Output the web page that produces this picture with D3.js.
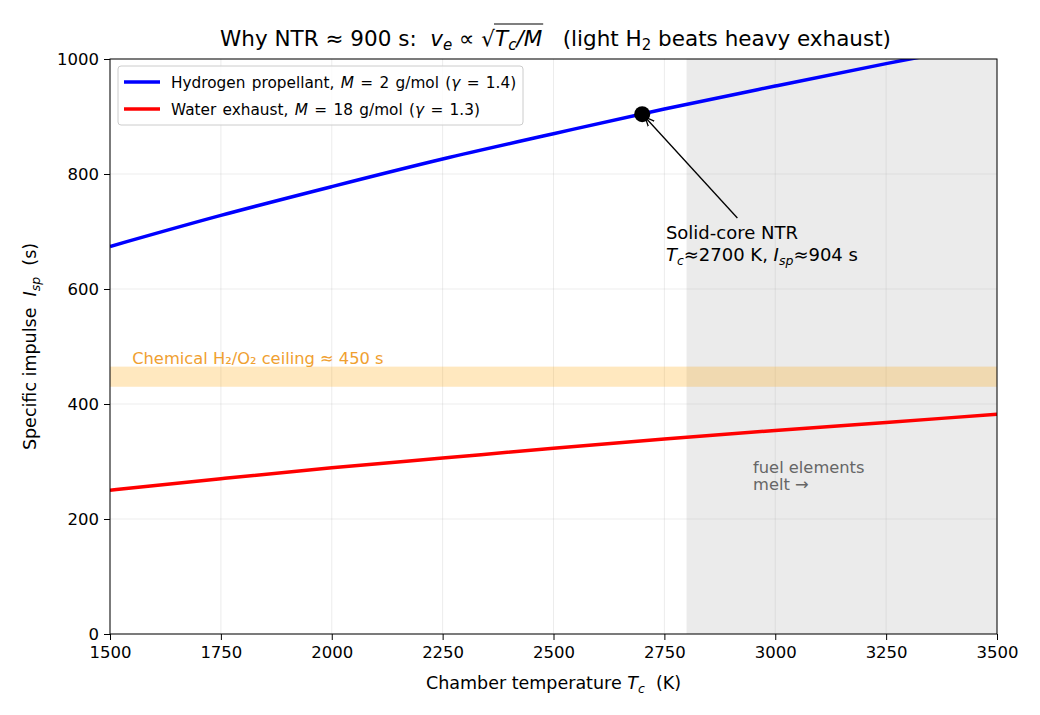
<!DOCTYPE html>
<html>
<head>
<meta charset="utf-8">
<script src="https://cdn.jsdelivr.net/npm/d3@7"></script>
<style>
  body { margin: 0; background: #fff; }
  svg text { font-family: "DejaVu Sans", sans-serif; }
</style>
</head>
<body>
<div id="wrapper"></div>
<script>
// values
const temps = [1500, 1750, 2000, 2250, 2500, 2750, 3000, 3250, 3500]
const hydrogenIsp = [674, 728, 778, 826, 870, 913, 953, 992, 1029]
const waterIsp = [250, 270, 289, 306, 323, 339, 354, 368, 382]
const xTicks = [1500, 1750, 2000, 2250, 2500, 2750, 3000, 3250, 3500]
const yTicks = [0, 200, 400, 600, 800, 1000]
const chemBand = [430, 465]
const meltStart = 2800
const ntrPoint = [2700, 904]

const dimensions = {
  width: 1040,
  height: 715,
  margin: { top: 59, right: 43, bottom: 81, left: 110 }
}
dimensions.boundedWidth = dimensions.width - dimensions.margin.left - dimensions.margin.right
dimensions.boundedHeight = dimensions.height - dimensions.margin.top - dimensions.margin.bottom

const svg = d3.select("#wrapper").append("svg")
    .attr("width", dimensions.width)
    .attr("height", dimensions.height)

const bounds = svg.append("g")
    .attr("transform", `translate(${dimensions.margin.left},${dimensions.margin.top})`)

const xScale = d3.scaleLinear().domain([1500, 3500]).range([0, dimensions.boundedWidth])
const yScale = d3.scaleLinear().domain([0, 1000]).range([dimensions.boundedHeight, 0])

bounds.append("clipPath").attr("id", "clip")
  .append("rect")
    .attr("width", dimensions.boundedWidth)
    .attr("height", dimensions.boundedHeight)

// melt region
bounds.append("rect")
    .attr("x", xScale(meltStart))
    .attr("y", 0)
    .attr("width", xScale(3500) - xScale(meltStart))
    .attr("height", dimensions.boundedHeight)
    .attr("fill", "#ebebeb")

// grid
bounds.append("g").selectAll("line").data(xTicks).join("line")
    .attr("x1", d => xScale(d)).attr("x2", d => xScale(d))
    .attr("y1", 0).attr("y2", dimensions.boundedHeight)
    .attr("stroke", "#b0b0b0").attr("stroke-opacity", 0.3).attr("stroke-width", 0.8)
bounds.append("g").selectAll("line").data(yTicks).join("line")
    .attr("x1", 0).attr("x2", dimensions.boundedWidth)
    .attr("y1", d => yScale(d)).attr("y2", d => yScale(d))
    .attr("stroke", "#b0b0b0").attr("stroke-opacity", 0.3).attr("stroke-width", 0.8)

// chemical ceiling band
bounds.append("rect")
    .attr("x", 0)
    .attr("y", yScale(chemBand[1]))
    .attr("width", dimensions.boundedWidth)
    .attr("height", yScale(chemBand[0]) - yScale(chemBand[1]))
    .attr("fill", "#ffa500").attr("fill-opacity", 0.25)
bounds.append("text")
    .attr("x", xScale(1550))
    .attr("y", yScale(chemBand[1]) - 3)
    .text("Chemical H\u2082/O\u2082 ceiling \u2248 450 s")
    .attr("fill", "#f0a030")
    .style("font-size", "16.3px")

// lines
const line = d3.line()
    .x(d => xScale(d[0]))
    .y(d => yScale(d[1]))
    .curve(d3.curveMonotoneX)

const lines = bounds.append("g").attr("clip-path", "url(#clip)")
lines.append("path")
    .attr("d", line(d3.zip(temps, hydrogenIsp)))
    .attr("fill", "none").attr("stroke", "#0000ff").attr("stroke-width", 3.5)
lines.append("path")
    .attr("d", line(d3.zip(temps, waterIsp)))
    .attr("fill", "none").attr("stroke", "#ff0000").attr("stroke-width", 3.5)

// melt label
const meltLabel = bounds.append("text")
    .attr("y", yScale(280))
    .attr("fill", "#666666")
    .style("font-size", "16.3px")
meltLabel.append("tspan").attr("x", xScale(2950)).text("fuel elements")
meltLabel.append("tspan").attr("x", xScale(2950)).attr("dy", 17).text("melt \u2192")

// NTR point + annotation
const px = xScale(ntrPoint[0]), py = yScale(ntrPoint[1])
const tx = xScale(2750), ty = yScale(720)
svg.append("defs").append("marker")
    .attr("id", "arrow")
    .attr("viewBox", "0 0 10 10")
    .attr("refX", 9).attr("refY", 5)
    .attr("markerWidth", 10).attr("markerHeight", 10)
    .attr("markerUnits", "userSpaceOnUse")
    .attr("orient", "auto")
  .append("path")
    .attr("d", "M0,1 L9,5 L0,9")
    .attr("fill", "none").attr("stroke", "black").attr("stroke-width", 1.3)
bounds.append("line")
    .attr("x1", tx + 73).attr("y1", ty - 2)
    .attr("x2", px + 3).attr("y2", py + 3)
    .attr("stroke", "black").attr("stroke-width", 1.3)
    .attr("marker-end", "url(#arrow)")
bounds.append("circle")
    .attr("cx", px).attr("cy", py).attr("r", 8)
    .attr("fill", "black")

const ann = bounds.append("text")
    .attr("y", ty + 19)
    .style("font-size", "18px")
ann.append("tspan").attr("x", tx + 1.5).text("Solid-core NTR")
const ann2 = ann.append("tspan").attr("x", tx + 1.5).attr("dy", 22)
ann2.append("tspan").style("font-style", "italic").text("T")
ann2.append("tspan").style("font-style", "italic").style("font-size", "12.5px").attr("dy", 4).text("c")
ann2.append("tspan").attr("dy", -4).text("\u22482700 K, ")
ann2.append("tspan").style("font-style", "italic").text("I")
ann2.append("tspan").style("font-style", "italic").style("font-size", "12.5px").attr("dy", 4).text("sp")
ann2.append("tspan").attr("dy", -4).text("\u2248904 s")

// axes
const xAxis = bounds.append("g")
    .attr("transform", `translate(0,${dimensions.boundedHeight})`)
    .call(d3.axisBottom(xScale).tickValues(xTicks).tickSize(6).tickPadding(6).tickFormat(d3.format("d")))
const yAxis = bounds.append("g")
    .call(d3.axisLeft(yScale).tickValues(yTicks).tickSize(6).tickPadding(5).tickFormat(d3.format("d")))
;[xAxis, yAxis].forEach(a => {
  a.selectAll("text").style("font-size", "16.5px").attr("fill", "black").style("font-family", "DejaVu Sans, sans-serif")
  a.selectAll("line").attr("stroke", "black")
  a.select(".domain").remove()
})
// spines
bounds.append("rect")
    .attr("width", dimensions.boundedWidth)
    .attr("height", dimensions.boundedHeight)
    .attr("fill", "none").attr("stroke", "black").attr("stroke-width", 1)

// axis labels
const xLabel = svg.append("text")
    .attr("x", dimensions.margin.left + dimensions.boundedWidth / 2)
    .attr("y", 689)
    .attr("text-anchor", "middle")
    .style("font-size", "17.5px")
xLabel.append("tspan").text("Chamber temperature ")
xLabel.append("tspan").style("font-style", "italic").text("T")
xLabel.append("tspan").style("font-style", "italic").style("font-size", "12.5px").attr("dy", 4).text("c")
xLabel.append("tspan").attr("dy", -4).text("\u00a0\u00a0(K)")

const yLabel = svg.append("text")
    .attr("transform", `translate(36,${dimensions.margin.top + dimensions.boundedHeight / 2}) rotate(-90)`)
    .attr("text-anchor", "middle")
    .style("font-size", "17.5px")
yLabel.append("tspan").text("Specific impulse\u00a0\u00a0")
yLabel.append("tspan").style("font-style", "italic").text("I")
yLabel.append("tspan").style("font-style", "italic").style("font-size", "12.5px").attr("dy", 4).text("sp")
yLabel.append("tspan").attr("dy", -4).text("\u00a0\u00a0(s)")

// title
const titleY = 46
const title = svg.append("text")
    .attr("x", dimensions.margin.left + dimensions.boundedWidth / 2 + 2)
    .attr("y", titleY)
    .attr("text-anchor", "middle")
    .style("font-size", "21.5px")
title.append("tspan").text("Why NTR \u2248 900 s:\u00a0\u00a0")
title.append("tspan").style("font-style", "italic").text("v")
title.append("tspan").style("font-style", "italic").style("font-size", "15px").attr("dy", 4).text("e")
title.append("tspan").attr("dy", -4).text(" \u221d ")
title.append("tspan").attr("class", "sqrt").text("\u221a")
title.append("tspan").attr("class", "rad").style("font-style", "italic").text("T")
title.append("tspan").attr("class", "rad").style("font-style", "italic").style("font-size", "15px").attr("dy", 4).text("c")
title.append("tspan").attr("class", "rad").style("font-style", "italic").attr("dy", -4).text("/M")
title.append("tspan").text("\u00a0\u00a0\u00a0(light H")
title.append("tspan").style("font-size", "15px").attr("dy", 4).text("2")
title.append("tspan").attr("dy", -4).text(" beats heavy exhaust)")
// overbar for sqrt
const rads = title.selectAll(".rad").nodes()
const first = rads[0].getStartPositionOfChar(0)
const lastNode = rads[rads.length - 1]
const last = lastNode.getEndPositionOfChar(lastNode.getNumberOfChars() - 1)
svg.append("line")
    .attr("x1", first.x - 1).attr("x2", last.x + 1)
    .attr("y1", titleY - 22).attr("y2", titleY - 22)
    .attr("stroke", "black").attr("stroke-width", 1.2)

// legend
const legendData = [
  { color: "#0000ff", pre: "Hydrogen propellant, ", m: "2", g: "1.4" },
  { color: "#ff0000", pre: "Water exhaust, ", m: "18", g: "1.3" }
]
const legend = svg.append("g").attr("transform", "translate(118,66)")
legend.append("rect")
    .attr("width", 405).attr("height", 59).attr("rx", 3)
    .attr("fill", "white").attr("fill-opacity", 0.8)
    .attr("stroke", "#cccccc")
const items = legend.selectAll(".item").data(legendData).join("g")
    .attr("transform", (d, i) => `translate(0,${16 + i * 27})`)
items.append("line")
    .attr("x1", 6).attr("x2", 42)
    .attr("stroke", d => d.color).attr("stroke-width", 3.5)
const lt = items.append("text")
    .attr("x", 53).attr("y", 5.5)
    .style("font-size", "15.3px")
    .style("word-spacing", "1.5px")
lt.append("tspan").text(d => d.pre)
lt.append("tspan").style("font-style", "italic").text("M")
lt.append("tspan").text(d => ` = ${d.m} g/mol (`)
lt.append("tspan").style("font-style", "italic").text("\u03b3")
lt.append("tspan").text(d => ` = ${d.g})`)
</script>
</body>
</html>
